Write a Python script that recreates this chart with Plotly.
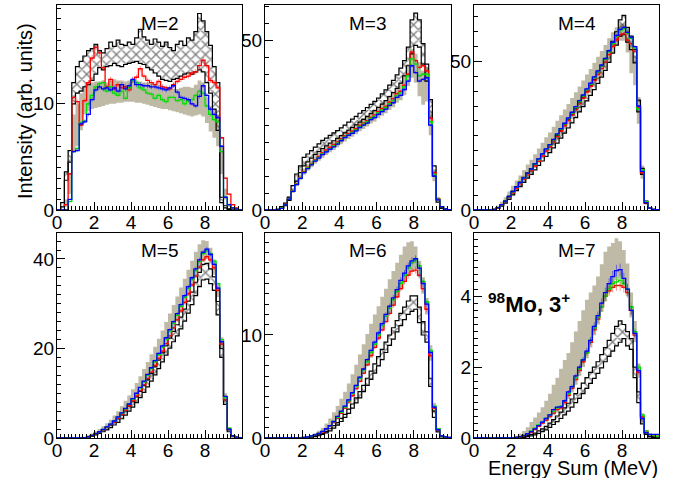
import numpy as np
import plotly.graph_objects as go

# ---------------- data ----------------
E_EDGES = np.round(np.arange(0, 10.0001, 0.2), 1)   # 50 bins of 0.2 MeV
E_CENTERS = np.round(E_EDGES[:-1] + 0.1, 2)

M2_red = [0,0,0.5,3.4,10.6,10.2,8.0,10.3,12.0,14.3,15.3,14.8,13.4,11.6,12.3,11.4,11.8,11.5,11.6,11.3,12.2,12.5,13.3,12.6,12.2,12.0,11.8,12.1,11.6,11.5,11.4,11.8,12.1,12.3,12.5,12.6,12.9,13.0,13.6,14.1,13.6,12.2,12.0,11.5,6.8,3.0,1.5,0.5,0.2,0]
M2_green = [0,0,0,0.8,5.5,5.8,8.2,8.4,10.0,10.8,11.6,11.9,12.0,11.2,11.6,11.0,10.8,11.2,10.5,11.5,12.2,12.0,11.5,11.3,11.0,10.9,10.5,10.8,10.4,10.2,10.6,10.6,10.3,10.4,10.0,10.3,10.4,10.8,11.2,11.0,9.8,9.0,8.5,8.3,5.5,1.2,0.5,0.2,0.1,0]
M2_blue = [0,0,0,1.0,5.5,5.6,8.1,8.3,9.0,10.4,11.3,11.6,11.4,11.5,11.3,11.5,11.2,11.8,11.4,11.7,12.3,11.8,11.8,11.7,11.7,11.6,11.6,11.5,11.4,11.3,11.5,11.7,11.1,10.6,10.5,10.4,10.0,9.8,10.7,11.7,10.8,9.5,9.0,8.7,6.0,1.2,0.5,0.2,0.1,0]
M2_gray_lo = [0,0,0.3,1.5,5.5,6.0,7.5,9.0,9.3,9.5,9.6,9.7,9.8,9.9,10.0,10.0,10.1,10.1,10.2,10.2,10.2,10.1,10.1,10.0,9.9,9.8,9.7,9.6,9.5,9.5,9.4,9.3,9.2,9.1,9.0,8.9,8.8,8.9,9.0,8.8,8.2,7.4,6.8,6.0,3.4,1.0,0.3,0.1,0,0]
M2_gray_hi = [0,0.1,1.0,3.5,9.0,10.0,11.0,11.5,11.8,12.0,12.1,12.1,12.2,12.0,12.2,12.3,12.2,12.2,12.1,12.2,12.3,12.2,12.1,12.0,12.0,11.9,11.8,11.8,11.7,11.6,11.5,11.4,11.4,11.5,11.6,11.6,11.5,11.8,12.2,12.0,10.6,9.8,9.5,9.0,6.0,2.0,0.6,0.2,0.05,0]
M2_hatch_lo = [0,0.3,2.8,4.5,10.0,11.0,11.2,11.6,11.8,12.2,12.8,13.4,13.2,13.5,13.6,13.8,13.6,13.5,13.7,13.8,13.9,14.0,13.8,13.7,13.4,13.2,12.9,12.6,12.3,12.2,12.1,12.3,12.4,12.6,12.8,12.9,12.8,13.0,13.2,13.0,12.0,11.0,9.5,7.5,0.7,0.2,0.05,0,0,0]
M2_hatch_hi = [0,0.7,3.6,5.6,12.0,13.5,14.0,14.5,15.0,15.2,15.6,15.0,14.8,15.2,15.8,15.4,16.0,15.6,15.5,15.8,15.6,16.2,17.0,16.3,16.0,15.6,16.1,15.8,15.4,15.8,15.3,15.0,15.6,15.9,15.5,16.2,16.0,16.8,18.5,17.8,16.8,15.5,13.5,12.0,1.2,0.4,0.1,0,0,0]

M3_red = [0,0,0,0.1,0.6,1.7,3.4,5.8,7.8,9.6,11.3,12.6,13.7,14.8,15.8,16.8,17.7,18.5,19.3,20.1,21.0,21.8,22.5,23.2,24.0,25.0,25.6,26.3,27.3,28.0,29.0,29.9,30.6,31.8,32.8,34.3,35.0,36.8,40.0,46.5,44.0,42.0,42.5,41.0,27.0,11.0,3.2,1.0,0.3,0.1]
M3_green = [0,0,0,0.1,0.6,1.6,3.3,5.6,7.6,9.4,11.1,12.4,13.5,14.6,15.5,16.5,17.3,18.1,18.9,19.7,20.6,21.5,22.2,22.9,23.6,24.6,25.3,26.0,27.0,27.6,28.6,29.4,30.2,31.3,32.2,33.7,34.5,36.3,39.5,44.5,43.0,39.5,40.0,40.0,26.0,10.5,3.1,1.0,0.3,0.1]
M3_blue = [0,0,0,0.1,0.5,1.5,3.2,5.5,7.5,9.3,11.0,12.2,13.3,14.4,15.3,16.3,17.1,17.9,18.6,19.4,20.4,21.3,22.0,22.6,23.3,24.3,25.0,25.6,26.6,27.2,28.2,29.0,29.7,30.8,31.6,33.2,33.8,35.5,38.0,42.5,40.5,38.0,38.5,39.0,25.0,10.0,3.0,1.0,0.3,0.1]
M3_gray_lo = [0,0,0,0,0.3,1.2,2.8,5.0,7.0,8.8,10.4,11.6,12.6,13.6,14.5,15.4,16.2,17.0,17.7,18.5,19.4,20.2,20.9,21.6,22.3,23.2,23.9,24.6,25.5,26.1,27.0,27.8,28.5,29.5,30.3,31.6,32.3,33.8,36.5,39.0,37.5,33.5,31.0,32.0,22.0,8.5,2.5,0.8,0.2,0]
M3_gray_hi = [0,0,0,0.2,0.9,2.1,3.9,6.5,8.6,10.4,12.2,13.5,14.6,15.8,16.8,17.8,18.7,19.6,20.4,21.3,22.2,23.1,23.9,24.6,25.4,26.4,27.1,27.9,29.0,29.7,30.7,31.7,32.4,33.7,34.7,36.5,37.4,39.5,43.0,47.5,46.0,43.5,41.0,42.0,29.0,12.0,3.8,1.2,0.4,0.1]
M3_hatch_lo = [0,0,0,0.1,0.6,1.3,2.8,5.5,8.5,11.0,13.0,14.2,15.3,16.3,17.2,18.1,18.9,19.7,20.4,21.1,21.9,22.7,23.5,24.3,25.1,25.9,26.7,27.5,28.4,29.3,30.2,31.2,32.2,33.4,34.6,35.8,37.4,39.5,42.5,46.0,48.5,48.0,43.0,38.0,27.0,10.0,2.3,0.5,0.1,0]
M3_hatch_hi = [0,0,0,0.3,1.0,2.0,3.8,7.2,10.6,13.0,15.5,16.5,17.5,18.5,19.5,20.5,21.2,22.0,22.7,23.4,24.2,25.0,25.9,26.8,27.6,28.5,29.3,30.2,31.1,32.0,33.0,34.2,35.4,36.8,38.2,39.8,41.8,44.0,48.0,56.0,58.0,56.0,49.0,43.0,32.5,13.0,3.2,0.8,0.2,0]

M4_red = [0,0,0,0,0,0.2,0.7,1.7,2.8,4.3,5.8,7.3,8.8,10.3,11.8,13.2,14.8,16.4,18.1,19.8,21.2,22.9,24.7,26.5,28.3,30.1,31.9,33.8,35.7,37.6,39.7,41.6,43.6,45.6,47.6,49.8,52.3,55.0,57.3,59.0,59.3,57.2,56.0,53.5,34.5,12.5,2.4,0.6,0.2,0.1]
M4_green = [0,0,0,0,0,0.2,0.8,1.8,3.0,4.5,6.1,7.6,9.1,10.7,12.3,13.7,15.4,17.0,18.7,20.4,21.8,23.6,25.4,27.2,29.0,30.8,32.6,34.5,36.5,38.4,40.5,42.4,44.5,46.5,48.5,50.7,53.2,56.0,58.5,60.4,61.0,59.5,57.8,54.5,34.0,13.5,2.8,0.6,0.2,0.1]
M4_blue = [0,0,0,0,0,0.2,0.8,1.8,3.0,4.5,6.2,7.7,9.2,10.8,12.4,13.8,15.5,17.2,18.9,20.6,22.0,23.8,25.6,27.4,29.2,31.0,32.9,34.8,36.8,38.7,40.8,42.7,44.8,46.8,48.8,51.0,53.6,56.4,58.8,60.8,61.5,59.8,58.2,55.0,35.0,13.0,2.5,0.6,0.2,0.1]
M4_gray_lo = [0,0,0,0,0,0.1,0.5,1.3,2.4,3.8,5.3,6.7,8.1,9.6,11.1,12.5,14.1,15.7,17.3,19.0,20.3,22.0,23.7,25.4,27.1,28.8,30.6,32.4,34.3,36.2,38.2,40.0,42.0,44.0,45.9,48.0,50.5,53.0,55.3,57.0,57.0,53.0,46.0,42.0,29.0,10.5,1.8,0.4,0.1,0]
M4_gray_hi = [0,0,0,0,0.1,0.5,1.5,2.8,4.3,6.2,8.2,9.9,11.6,13.5,15.3,16.9,18.8,20.7,22.6,24.5,26.1,28.0,30.0,31.9,33.8,35.7,37.7,39.6,41.6,43.6,45.6,47.5,49.6,51.6,53.5,55.5,57.8,59.8,61.5,62.8,62.5,60.5,57.5,52.0,38.0,15.0,3.2,0.8,0.3,0.1]
M4_hatch_lo = [0,0,0,0,0,0.1,0.5,1.3,2.3,3.6,5.1,6.5,7.9,9.3,10.7,12.0,13.5,15.0,16.5,18.0,19.3,20.9,22.5,24.2,25.9,27.6,29.3,31.1,33.0,34.8,36.7,38.6,40.5,42.6,44.7,47.0,49.7,52.8,55.5,58.5,59.0,56.5,54.0,49.5,33.0,12.0,2.2,0.5,0.1,0]
M4_hatch_hi = [0,0,0,0,0,0.2,0.8,1.8,3.1,4.7,6.4,7.9,9.4,11.0,12.5,13.9,15.5,17.1,18.7,20.3,21.7,23.4,25.1,26.9,28.7,30.5,32.3,34.2,36.1,38.0,40.0,42.0,44.0,46.2,48.4,50.8,53.6,56.8,60.0,64.0,65.5,61.5,58.5,54.0,37.0,14.0,3.0,0.8,0.2,0.1]

M5_red = [0,0,0,0,0,0,0,0.1,0.3,0.6,0.9,1.3,1.8,2.4,3.0,3.6,4.4,5.2,6.2,7.2,8.3,9.4,10.6,11.9,13.3,14.7,16.2,17.8,19.4,21.1,22.8,24.6,26.4,28.4,30.3,32.2,34.2,36.2,38.2,39.8,40.5,39.8,38.0,33.0,21.0,8.5,2.0,0.5,0.2,0.1]
M5_green = [0,0,0,0,0,0,0,0.1,0.3,0.6,1.0,1.4,1.9,2.5,3.1,3.8,4.6,5.5,6.5,7.5,8.7,9.9,11.2,12.5,14.0,15.5,17.0,18.6,20.3,22.0,23.8,25.6,27.4,29.4,31.4,33.4,35.4,37.4,39.4,41.2,41.8,41.2,39.5,34.5,22.0,9.0,2.2,0.5,0.2,0.1]
M5_blue = [0,0,0,0,0,0,0,0.1,0.3,0.6,1.0,1.4,1.9,2.5,3.1,3.8,4.7,5.6,6.6,7.6,8.8,10.0,11.3,12.7,14.2,15.7,17.3,18.9,20.6,22.4,24.2,26.0,27.8,29.8,31.8,33.8,35.8,37.8,39.8,41.5,42.2,41.0,38.8,33.5,21.5,9.3,2.0,0.5,0.2,0.1]
M5_gray_lo = [0,0,0,0,0,0,0,0,0.2,0.4,0.8,1.2,1.6,2.1,2.7,3.3,4.1,4.9,5.8,6.8,7.9,9.0,10.2,11.5,12.9,14.3,15.8,17.4,19.0,20.7,22.4,24.2,26.0,27.9,29.8,31.8,33.8,35.8,37.7,39.4,40.0,39.0,36.5,31.5,20.0,8.5,1.7,0.4,0.1,0]
M5_gray_hi = [0,0,0,0,0,0,0.1,0.3,0.6,1.0,1.5,2.0,2.6,3.3,4.1,5.0,6.0,7.1,8.3,9.5,10.9,12.3,13.8,15.4,17.0,18.7,20.4,22.2,24.0,25.9,27.8,29.7,31.6,33.6,35.6,37.6,39.6,41.6,43.3,44.2,44.0,42.5,39.8,34.5,22.5,10.0,2.4,0.6,0.2,0.1]
M5_hatch_lo = [0,0,0,0,0,0,0,0,0.2,0.4,0.7,1.0,1.4,1.8,2.3,2.9,3.5,4.3,5.1,6.0,6.9,7.9,9.0,10.2,11.4,12.7,14.1,15.5,17.0,18.5,20.1,21.5,22.8,24.4,26.1,27.9,29.8,31.8,33.8,35.3,35.5,34.5,33.0,27.5,18.0,7.5,1.4,0.3,0.1,0]
M5_hatch_hi = [0,0,0,0,0,0,0,0.1,0.3,0.5,0.9,1.3,1.8,2.3,2.9,3.6,4.3,5.2,6.1,7.1,8.1,9.2,10.4,11.7,13.0,14.4,15.9,17.4,19.0,20.6,22.3,23.8,25.3,27.0,28.8,30.6,32.6,34.8,37.0,38.8,39.0,37.8,36.0,30.5,20.0,8.5,1.8,0.4,0.1,0]

M6_red = [0,0,0,0,0,0,0,0,0,0,0.05,0.1,0.2,0.3,0.45,0.6,0.85,1.15,1.5,1.9,2.4,2.9,3.5,4.1,4.8,5.5,6.3,7.1,8.0,8.8,9.7,10.5,11.3,12.1,12.9,13.7,14.5,15.2,15.8,16.2,16.3,15.8,14.5,12.5,8.0,2.9,0.8,0.2,0.1,0.05]
M6_green = [0,0,0,0,0,0,0,0,0,0,0.05,0.1,0.2,0.3,0.45,0.65,0.9,1.2,1.6,2.0,2.5,3.0,3.6,4.3,5.0,5.8,6.6,7.4,8.3,9.1,10.0,10.9,11.8,12.6,13.4,14.2,15.0,15.8,16.5,17.0,17.3,16.7,15.2,13.2,8.5,3.1,0.9,0.2,0.1,0.05]
M6_blue = [0,0,0,0,0,0,0,0,0,0,0.05,0.1,0.2,0.3,0.45,0.65,0.9,1.2,1.6,2.1,2.6,3.1,3.7,4.4,5.1,5.9,6.7,7.6,8.5,9.3,10.2,11.1,12.0,12.8,13.6,14.4,15.3,16.0,16.7,17.2,17.4,16.5,15.0,13.0,8.3,3.0,0.8,0.2,0.1,0.05]
M6_gray_lo = [0,0,0,0,0,0,0,0,0,0,0,0.05,0.1,0.2,0.35,0.5,0.75,1.0,1.4,1.8,2.3,2.8,3.3,4.0,4.6,5.4,6.2,7.0,7.8,8.7,9.5,10.4,11.2,12.0,12.8,13.6,14.4,15.1,15.8,16.2,16.4,15.6,14.0,12.0,7.5,2.6,0.6,0.1,0.05,0]
M6_gray_hi = [0,0,0,0,0,0,0,0,0,0.05,0.1,0.2,0.3,0.45,0.7,1.0,1.4,1.9,2.5,3.1,3.8,4.5,5.3,6.2,7.1,8.1,9.1,10.1,11.1,12.0,12.8,13.7,14.5,15.4,16.2,17.0,17.8,18.6,19.0,19.1,18.6,17.2,15.6,13.6,9.0,3.4,1.0,0.3,0.1,0.05]
M6_hatch_lo = [0,0,0,0,0,0,0,0,0,0,0.02,0.04,0.08,0.14,0.22,0.35,0.5,0.7,0.95,1.25,1.6,2.0,2.4,2.9,3.4,3.9,4.5,5.1,5.7,6.3,7.0,7.6,8.3,9.0,9.6,10.3,10.9,11.5,12.0,12.3,12.5,11.2,10.0,9.3,5.0,2.0,0.6,0.1,0.05,0]
M6_hatch_hi = [0,0,0,0,0,0,0,0,0,0,0.03,0.06,0.12,0.2,0.3,0.45,0.65,0.9,1.2,1.5,1.9,2.3,2.8,3.3,3.9,4.5,5.1,5.8,6.5,7.2,7.9,8.6,9.3,10.0,10.7,11.4,12.1,12.7,13.3,13.8,13.8,12.7,11.3,10.3,5.8,2.6,0.9,0.2,0.1,0]

M7_red = [0,0,0,0,0,0,0,0,0,0,0,0.02,0.04,0.06,0.1,0.16,0.24,0.33,0.42,0.5,0.6,0.7,0.8,0.85,1.0,1.2,1.4,1.65,1.9,2.15,2.4,2.7,3.05,3.35,3.7,4.0,4.15,4.25,4.3,4.3,4.25,4.1,3.6,2.9,1.85,0.6,0.2,0.1,0.08,0.05]
M7_green = [0,0,0,0,0,0,0,0,0,0,0,0.02,0.04,0.07,0.12,0.2,0.28,0.37,0.45,0.55,0.65,0.75,0.85,0.9,1.05,1.25,1.45,1.7,1.95,2.2,2.4,2.75,3.1,3.4,3.7,4.0,4.2,4.35,4.4,4.45,4.35,4.2,3.7,3.0,2.0,0.65,0.2,0.1,0.08,0.05]
M7_blue = [0,0,0,0,0,0,0,0,0,0,0,0.02,0.04,0.07,0.12,0.18,0.26,0.35,0.45,0.55,0.65,0.8,0.87,0.88,1.05,1.3,1.45,1.75,2.0,2.2,2.45,2.75,3.15,3.45,3.8,4.1,4.35,4.55,4.72,4.75,4.5,4.2,3.6,2.95,1.9,0.55,0.15,0.1,0.1,0.1]
M7_gray_lo = [0,0,0,0,0,0,0,0,0,0,0,0.02,0.04,0.07,0.1,0.16,0.22,0.3,0.38,0.46,0.55,0.65,0.72,0.8,0.92,1.1,1.28,1.5,1.75,2.0,2.25,2.55,2.9,3.2,3.55,3.85,4.1,4.3,4.45,4.5,4.3,4.0,3.4,2.7,1.7,0.5,0.1,0.05,0.03,0]
M7_gray_hi = [0,0,0,0,0,0,0,0,0,0,0.03,0.06,0.12,0.2,0.3,0.45,0.58,0.72,0.87,1.05,1.25,1.5,1.7,1.95,2.2,2.4,2.7,3.0,3.3,3.6,3.9,4.1,4.3,4.55,4.9,5.25,5.4,5.5,5.63,5.55,5.3,4.92,4.1,3.3,2.1,0.7,0.2,0.1,0.08,0.05]
M7_hatch_lo = [0,0,0,0,0,0,0,0,0,0,0,0,0.01,0.02,0.04,0.06,0.09,0.13,0.18,0.23,0.3,0.38,0.46,0.55,0.65,0.76,0.87,1.0,1.12,1.25,1.4,1.54,1.68,1.82,1.98,2.15,2.3,2.45,2.6,2.7,2.8,2.6,2.5,1.7,1.0,0.4,0.1,0.03,0.01,0]
M7_hatch_hi = [0,0,0,0,0,0,0,0,0,0,0,0.01,0.02,0.04,0.07,0.1,0.14,0.2,0.26,0.33,0.42,0.52,0.62,0.73,0.85,0.98,1.1,1.25,1.4,1.55,1.7,1.85,2.0,2.15,2.35,2.55,2.75,2.95,3.15,3.3,3.2,3.0,2.8,2.0,1.3,0.6,0.15,0.05,0.03,0]

PANEL_LABELS = ["M=2", "M=3", "M=4", "M=5", "M=6", "M=7"]
Y_MAX = [19.3, 60.4, 69.0, 45.8, 19.9, 5.78]
Y_TICKS = [[0, 10], [0, 50], [0, 50], [0, 20, 40], [0, 10], [0, 2, 4]]
Y_MINOR = [1, 5, 5, 2, 1, 0.2]
X_TICKS = [0, 2, 4, 6, 8]
REL_ERR_PCT = [2.0, 1.2, 1.0, 1.2, 2.0, 3.5]

SERIES = [
    (M2_red, M2_green, M2_blue, M2_gray_lo, M2_gray_hi, M2_hatch_lo, M2_hatch_hi),
    (M3_red, M3_green, M3_blue, M3_gray_lo, M3_gray_hi, M3_hatch_lo, M3_hatch_hi),
    (M4_red, M4_green, M4_blue, M4_gray_lo, M4_gray_hi, M4_hatch_lo, M4_hatch_hi),
    (M5_red, M5_green, M5_blue, M5_gray_lo, M5_gray_hi, M5_hatch_lo, M5_hatch_hi),
    (M6_red, M6_green, M6_blue, M6_gray_lo, M6_gray_hi, M6_hatch_lo, M6_hatch_hi),
    (M7_red, M7_green, M7_blue, M7_gray_lo, M7_gray_hi, M7_hatch_lo, M7_hatch_hi),
]

# ---------------- layout geometry (pixels) ----------------
W, H = 680, 478
COLS = [(57, 242), (265, 451), (474, 659)]
ROWS = [(5, 210), (233, 438)]

FONT = "Liberation Sans, Arial, Helvetica, sans-serif"
GRAY = "rgb(190,186,166)"
RED, GREEN, BLUE = "#ff0000", "#00dd00", "#0000ff"
ERR_COL = {RED: "rgba(255,0,0,0.45)", GREEN: "rgba(0,221,0,0.45)", BLUE: "rgba(0,0,255,0.45)"}


def step(vals):
    return list(vals) + [vals[-1]]


fig = go.Figure()
layout = dict(template="none", width=W, height=H, margin=dict(l=0, r=0, t=0, b=0, pad=0),
              autosize=False,
              paper_bgcolor="white", plot_bgcolor="white", showlegend=False,
              font=dict(family=FONT, color="black"))
annotations = []

for i in range(6):
    r, c = divmod(i, 3)
    n = i + 1
    xa = "x" if n == 1 else f"x{n}"
    ya = "y" if n == 1 else f"y{n}"
    red, green, blue, glo, ghi, hlo, hhi = SERIES[i]
    xs = list(E_EDGES)

    # gray band
    fig.add_trace(go.Scatter(x=xs, y=step(glo), xaxis=xa, yaxis=ya, mode="lines",
                             line=dict(width=0, shape="hv", color=GRAY), hoverinfo="skip"))
    fig.add_trace(go.Scatter(x=xs, y=step(ghi), xaxis=xa, yaxis=ya, mode="lines",
                             line=dict(width=0, shape="hv", color=GRAY), fill="tonexty",
                             fillcolor=GRAY, hoverinfo="skip"))
    # hatched band
    fig.add_trace(go.Scatter(x=xs, y=step(hlo), xaxis=xa, yaxis=ya, mode="lines",
                             line=dict(width=1.2, shape="hv", color="black"), hoverinfo="skip"))
    fig.add_trace(go.Scatter(x=xs, y=step(hhi), xaxis=xa, yaxis=ya, mode="lines",
                             line=dict(width=1.2, shape="hv", color="black"), fill="tonexty",
                             fillcolor="rgba(255,255,255,0)",
                             fillpattern=dict(shape="x", fgcolor="black", bgcolor="rgba(255,255,255,0)",
                                              size=7, solidity=0.35, fillmode="overlay"),
                             hoverinfo="skip"))
    # histograms
    for vals, col in ((red, RED), (green, GREEN), (blue, BLUE)):
        fig.add_trace(go.Scatter(x=list(E_CENTERS), y=vals, xaxis=xa, yaxis=ya, mode="markers",
                                 marker=dict(size=1, color=col),
                                 error_y=dict(type="percent", value=REL_ERR_PCT[i], width=0,
                                              thickness=1, color=ERR_COL[col]),
                                 hoverinfo="skip"))
        fig.add_trace(go.Scatter(x=xs, y=step(vals), xaxis=xa, yaxis=ya, mode="lines",
                                 line=dict(width=1.3, shape="hv", color=col), hoverinfo="skip"))

    x0, x1 = COLS[c]
    y0, y1 = ROWS[r]
    axis_common = dict(showline=True, linecolor="black", linewidth=1, mirror=True,
                       showgrid=False, zeroline=False, ticks="inside", ticklen=8,
                       tickwidth=1, automargin=False,
                       tickcolor="black", tickfont=dict(family=FONT, size=19, color="black"))
    layout["xaxis" if n == 1 else f"xaxis{n}"] = dict(
        axis_common, domain=[x0 / W, x1 / W], range=[0, 10], anchor=ya,
        tickmode="array", tickvals=X_TICKS, ticklabelstandoff=-5,
        minor=dict(ticks="inside", ticklen=4, dtick=0.2, tick0=0, tickcolor="black", showgrid=False))
    layout["yaxis" if n == 1 else f"yaxis{n}"] = dict(
        axis_common, domain=[1 - y1 / H, 1 - y0 / H], range=[0, Y_MAX[i]], anchor=xa,
        tickmode="array", tickvals=Y_TICKS[i], ticklabelstandoff=-2,
        minor=dict(ticks="inside", ticklen=4, dtick=Y_MINOR[i], tick0=0, tickcolor="black", showgrid=False))

    annotations.append(dict(text=PANEL_LABELS[i], xref="paper", yref="paper",
                            x=(x0 + 103) / W, y=1 - (y0 + 18) / H, showarrow=False,
                            xanchor="center", yanchor="middle",
                            font=dict(family=FONT, size=19, color="black")))

annotations.append(dict(text="Intensity (arb. units)", xref="paper", yref="paper",
                        x=25 / W, y=1 - 111 / H, textangle=-90, showarrow=False,
                        xanchor="center", yanchor="middle",
                        font=dict(family=FONT, size=20, color="black")))
annotations.append(dict(text="Energy Sum (MeV)", xref="paper", yref="paper",
                        x=660 / W, y=1 - 468 / H, showarrow=False,
                        xanchor="right", yanchor="middle",
                        font=dict(family=FONT, size=20, color="black")))
annotations.append(dict(text="<b><sup>98</sup>Mo, 3<sup>+</sup></b>", xref="paper", yref="paper",
                        x=486 / W, y=1 - 303 / H, showarrow=False,
                        xanchor="left", yanchor="middle",
                        font=dict(family=FONT, size=22, color="black")))

layout["annotations"] = annotations
fig.update_layout(**layout)
fig.write_html("out.html")
